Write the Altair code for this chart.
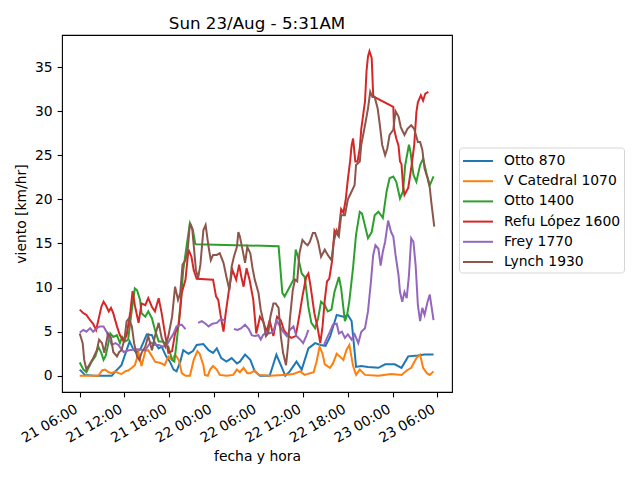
import altair as alt
import pandas as pd

# ---- data (hours after 21/Aug 06:00, wind km/hr) ----
series_names = ["Otto 870", "V Catedral 1070", "Otto 1400", "Refu López 1600", "Frey 1770", "Lynch 1930"]
series_colors = ["#1f77b4", "#ff7f0e", "#2ca02c", "#d62728", "#9467bd", "#8c564b"]

otto870 = [
    (0, 0.7), (0.7, 0.1), (2.0, 0.0), (4.3, 0.0), (4.8, 0.5), (5.6, 1.2), (6.7, 3.9), (7.2, 3.0),
    (7.6, 2.6), (8.2, 3.1), (9.0, 4.7), (9.7, 4.6), (10.1, 3.7), (10.6, 3.1), (11.0, 3.3), (11.6, 2.2),
    (12.1, 1.6), (12.6, 0.7), (13.0, 0.5), (13.5, 1.6), (13.9, 2.9), (14.6, 2.5), (15.2, 2.8), (15.7, 3.5),
    (16.6, 3.6), (17.3, 2.9), (17.9, 2.6), (18.4, 3.1), (19.0, 2.0), (19.7, 1.6), (20.4, 2.0), (21.1, 1.4),
    (21.5, 1.6), (22.2, 2.4), (22.9, 1.8), (23.5, 0.5), (24.2, 0.0), (25.5, 0.0), (26.4, 2.4), (27.1, 1.0),
    (27.6, 0.0), (28.2, 0.5), (29.1, 1.6), (29.8, 0.7), (30.7, 3.1), (31.6, 3.7), (32.3, 3.5), (33.0, 3.4),
    (33.6, 4.4), (34.5, 6.9), (35.4, 6.7), (36.0, 6.9), (36.5, 6.2), (36.9, 2.8), (37.1, 1.0), (37.8, 1.1),
    (38.7, 1.0), (40.1, 0.9), (41.0, 1.3), (42.3, 1.3), (43.2, 0.9), (44.1, 2.2), (45.4, 2.3), (46.3, 2.4),
    (47.5, 2.4),
]

vcatedral1070 = [
    (0, 0.0), (2.5, 0.0), (3.0, 0.6), (3.4, 0.7), (3.9, 0.4), (4.3, 0.3), (4.75, 0.5), (5.2, 0.3),
    (5.6, 0.2), (6.1, 0.5), (6.5, 0.6), (7.0, 0.9), (7.4, 1.2), (7.9, 2.6), (8.3, 1.1), (8.8, 2.8),
    (9.2, 2.9), (9.7, 2.2), (10.1, 1.6), (10.6, 1.5), (11.0, 1.4), (11.4, 1.2), (11.9, 2.2), (12.4, 1.8),
    (12.8, 2.4), (13.3, 1.8), (13.7, 0.3), (14.2, 0.0), (14.8, 0.0), (15.3, 1.8), (15.8, 2.8), (16.1, 2.5),
    (16.6, 1.2), (16.8, 0.1), (17.2, 0.0), (17.5, 0.7), (17.9, 1.1), (18.4, 0.7), (18.8, 0.1), (19.7, 0.0),
    (20.6, 0.1), (21.1, 0.7), (21.5, 0.4), (22.0, 0.9), (22.5, 0.3), (22.9, 0.3), (23.5, 0.6), (24.0, 0.1),
    (25.5, 0.0), (27.3, 0.1), (28.7, 0.2), (29.6, 0.5), (30.2, 0.1), (31.4, 0.4), (31.8, 1.6), (32.2, 3.3),
    (32.6, 2.5), (32.9, 1.3), (33.6, 0.9), (34.0, 1.4), (34.5, 2.5), (34.9, 2.2), (35.4, 1.8), (35.8, 2.9),
    (36.2, 3.5), (36.7, 1.1), (37.1, 0.1), (37.6, 0.7), (38.3, 0.1), (40.1, 0.0), (41.8, 0.2), (43.2, 0.1),
    (43.9, 0.6), (44.5, 0.9), (45.2, 2.0), (45.7, 2.4), (46.1, 0.9), (46.6, 0.3), (47.0, 0.1), (47.5, 0.5),
]

otto1400 = [
    (0, 1.5), (0.5, 0.7), (0.9, 0.4), (1.6, 1.6), (2.1, 2.2), (2.5, 3.3), (2.9, 2.6), (3.2, 1.8),
    (3.5, 2.3), (3.8, 3.5), (4.1, 4.8), (4.5, 4.4), (5.0, 4.6), (5.4, 3.7), (5.7, 4.4), (6.1, 3.9),
    (6.5, 4.1), (7.0, 7.5), (7.4, 9.9), (7.7, 9.7), (8.1, 8.6), (8.3, 7.1), (8.8, 6.7), (9.2, 7.3),
    (9.7, 6.5), (10.1, 5.2), (10.6, 3.9), (11.0, 3.9), (11.5, 3.7), (11.9, 3.3), (12.4, 1.8), (12.7, 1.6),
    (13.0, 3.7), (13.5, 7.8), (13.9, 12.0), (14.4, 15.0), (14.8, 17.3), (15.2, 16.5), (15.5, 15.0),
    (15.6, 14.9), (26.7, 14.7), (27.2, 9.4), (27.5, 9.0), (28.2, 10.1), (28.7, 10.9), (29.0, 14.3),
    (29.3, 13.5), (29.8, 11.6), (30.2, 11.2), (30.7, 7.8), (31.1, 6.0), (31.6, 5.4), (32.0, 6.5),
    (32.4, 8.4), (32.9, 8.0), (33.3, 7.3), (33.8, 7.5), (34.2, 9.5), (34.8, 11.2), (35.1, 9.9),
    (35.6, 6.2), (35.9, 6.9), (36.2, 8.5), (36.7, 12.3), (37.1, 16.0), (37.6, 18.6), (37.9, 18.4),
    (38.3, 17.0), (38.7, 15.6), (39.2, 16.3), (39.6, 18.2), (40.1, 18.6), (40.7, 17.9), (41.2, 20.9),
    (41.6, 22.4), (42.1, 22.6), (42.5, 22.0), (43.0, 20.1), (43.4, 20.9), (43.7, 23.9), (44.2, 26.2),
    (44.4, 25.4), (44.8, 22.8), (45.2, 22.0), (45.7, 23.9), (46.1, 24.6), (46.6, 22.8), (47.0, 21.6),
    (47.5, 22.6),
]

refulopez1600 = [
    (0, 7.5), (0.5, 7.1), (0.9, 6.9), (1.4, 6.3), (1.8, 5.9), (2.2, 5.2), (2.5, 6.3), (2.9, 7.8),
    (3.2, 8.4), (3.5, 8.0), (3.9, 7.3), (4.2, 7.7), (4.5, 7.1), (5.0, 5.6), (5.4, 4.6), (5.9, 3.9),
    (6.3, 4.6), (6.8, 7.3), (7.1, 9.6), (7.4, 8.0), (7.9, 6.0), (8.3, 8.2), (8.8, 8.0), (9.2, 8.8),
    (9.7, 7.8), (10.1, 7.3), (10.6, 8.8), (11.0, 7.1), (11.5, 4.5), (11.9, 2.6), (12.4, 2.8), (12.8, 4.8),
    (13.3, 5.8), (13.7, 9.4), (14.2, 10.9), (14.6, 14.3), (15.0, 13.5), (15.3, 12.0), (15.7, 11.0),
    (17.9, 10.9), (18.3, 9.0), (18.6, 8.6), (18.9, 6.9), (19.3, 5.0), (19.6, 7.1), (20.1, 10.1),
    (20.5, 12.0), (21.0, 10.9), (21.4, 12.6), (21.7, 11.2), (22.0, 10.1), (22.4, 12.2), (22.8, 10.9),
    (23.3, 8.6), (23.7, 4.8), (24.2, 6.7), (24.6, 6.2), (25.1, 5.0), (25.5, 6.3), (26.0, 4.5),
    (26.5, 6.7), (27.0, 6.3), (27.4, 5.2), (27.9, 4.6), (28.4, 4.3), (29.0, 4.5), (29.5, 6.9),
    (29.9, 9.0), (30.4, 11.2), (30.7, 11.6), (31.0, 10.1), (31.5, 7.1), (31.9, 5.6), (32.3, 3.7),
    (32.6, 5.6), (32.9, 8.6), (33.2, 10.7), (33.5, 11.0), (33.9, 13.1), (34.2, 16.5), (34.7, 15.9),
    (35.1, 18.9), (35.4, 18.5), (35.7, 19.9), (36.0, 22.3), (36.3, 24.3), (36.5, 26.1), (36.7, 26.9),
    (37.0, 24.3), (37.3, 24.3), (37.6, 25.8), (37.8, 28.0), (38.3, 31.1), (38.5, 34.5), (38.7, 36.2),
    (38.9, 36.8), (39.2, 36.0), (39.4, 31.8), (39.6, 31.6), (42.1, 30.5), (42.2, 28.0), (42.5, 26.9),
    (42.8, 26.1), (43.0, 24.3), (43.2, 24.0), (43.4, 21.6), (43.6, 20.5), (44.1, 21.3), (44.5, 23.5),
    (44.9, 26.1), (45.2, 29.9), (45.4, 31.0), (45.8, 31.8), (46.1, 31.2), (46.4, 32.0), (46.8, 32.2),
]

frey1770 = [
    (0, 4.9), (0.5, 5.2), (0.9, 5.0), (1.4, 5.4), (1.8, 5.0), (2.3, 5.4), (2.7, 5.6), (3.2, 5.6),
    (3.6, 5.0), (4.0, 4.1), (4.3, 3.5), (4.8, 3.7), (5.2, 3.5), (5.6, 3.0), (5.9, 2.7), (6.6, 2.9),
    (7.7, 3.0), (8.8, 2.9), (9.5, 3.8), (10.1, 3.5), (10.6, 3.5), (11.2, 3.3), (11.7, 3.5), (12.1, 4.1),
    (12.6, 4.8), (13.0, 5.6), (13.7, 5.8), (14.2, 5.3), (14.5, None),
    (15.9, 6.0), (16.4, 6.2), (16.9, 5.9), (17.3, 5.6), (17.8, 5.9), (18.4, 6.0), (18.9, 6.4), (19.5, 6.3),
    (20.0, None),
    (20.7, 5.3), (21.2, 5.2), (21.7, 5.4), (22.2, 5.8), (22.7, 5.3), (23.1, 4.6), (23.5, 4.5), (24.0, 4.6),
    (24.3, 4.1), (24.6, 4.6), (25.1, 5.0), (25.5, 4.8), (26.0, 5.0), (26.4, 6.3), (26.9, 5.6), (27.3, 5.0),
    (27.8, 4.5), (28.2, 5.2), (28.7, 5.6), (29.1, 4.5), (29.6, 4.1), (30.0, 3.7), (30.4, 4.5), (30.7, 5.2),
    (31.5, None),
    (32.8, 3.5), (33.1, 4.1), (33.6, 5.0), (34.0, 5.8), (34.5, 5.9), (34.8, 4.8), (35.2, 5.0), (35.6, 4.3),
    (36.0, 4.7), (36.5, 4.1), (36.9, 4.7), (37.4, 3.7), (37.8, 5.0), (38.3, 5.4), (38.7, 7.3), (39.1, 10.7),
    (39.4, 13.7), (39.7, 14.8), (40.1, 14.4), (40.4, 12.5), (40.7, 14.1), (41.0, 15.2), (41.4, 17.6),
    (41.8, 16.3), (42.1, 15.8), (42.4, 13.7), (42.8, 11.4), (43.0, 9.5), (43.3, 8.4), (43.6, 9.5),
    (43.9, 8.8), (44.2, 11.4), (44.5, 15.6), (44.8, 15.2), (45.1, 12.5), (45.4, 8.0), (45.7, 6.2),
    (46.0, 7.7), (46.3, 6.9), (46.7, 8.4), (47.0, 9.2), (47.2, 8.0), (47.5, 6.3),
]

lynch1930 = [
    (0, 4.8), (0.4, 3.7), (0.6, 1.8), (0.9, 0.7), (1.4, 1.4), (1.8, 2.0), (2.3, 2.9), (2.6, 4.1),
    (3.0, 3.7), (3.3, 2.6), (3.8, 4.8), (4.2, 4.3), (4.5, 2.7), (5.0, 2.2), (5.3, 2.7), (5.6, 2.9),
    (6.0, 4.1), (6.3, 6.2), (6.6, 6.5), (7.0, 5.6), (7.3, 3.7), (7.7, 2.2), (8.0, 1.8), (8.3, 2.6),
    (8.8, 3.3), (9.2, 4.5), (9.7, 2.9), (10.1, 4.5), (10.6, 6.0), (11.0, 4.3), (11.5, 3.3), (11.9, 4.5),
    (12.4, 6.7), (12.8, 10.1), (13.2, 8.6), (13.5, 9.4), (13.8, 12.6), (14.2, 13.1), (14.5, 14.3),
    (14.8, 17.3), (15.1, 16.7), (15.4, 13.9), (15.6, 12.0), (15.9, 11.1), (16.2, 12.6), (16.6, 16.5),
    (16.9, 17.1), (17.3, 14.6), (17.6, 13.1), (17.9, 13.7), (18.4, 13.7), (18.8, 13.9), (19.3, 12.8),
    (19.7, 11.2), (20.1, 9.7), (20.4, 12.4), (20.7, 13.5), (21.1, 14.6), (21.3, 16.3), (21.5, 15.8),
    (21.9, 14.1), (22.2, 12.8), (22.5, 14.6), (22.9, 13.9), (23.2, 12.2), (23.5, 10.9), (24.0, 9.4),
    (24.3, 7.5), (24.7, 6.0), (25.0, 4.5), (25.3, 4.8), (25.6, 6.7), (26.0, 8.2), (26.3, 8.2),
    (26.7, 7.7), (27.0, 4.5), (27.3, 2.6), (27.7, 1.2), (28.0, 3.7), (28.2, 6.3), (28.6, 9.7),
    (28.9, 10.9), (29.2, 10.7), (29.5, 13.9), (29.9, 15.4), (30.3, 15.0), (30.6, 14.8), (30.9, 15.2),
    (31.3, 16.2), (31.6, 16.2), (32.0, 15.2), (32.4, 13.5), (32.9, 14.3), (33.3, 13.7), (33.8, 13.1),
    (34.1, 15.2), (34.5, 16.5), (34.8, 15.9), (35.1, 18.2), (35.6, 18.2), (36.0, 20.0), (36.5, 20.9),
    (36.9, 21.6), (37.1, 23.9), (37.6, 24.3), (37.8, 26.2), (38.3, 28.4), (38.7, 30.3), (39.0, 32.2),
    (39.3, 31.6), (39.6, 31.6), (40.0, 30.3), (40.3, 28.4), (40.6, 26.2), (41.0, 25.0), (41.3, 25.8),
    (41.6, 27.3), (42.1, 27.9), (42.4, 30.0), (42.8, 29.4), (43.1, 28.2), (43.6, 27.3), (44.0, 28.0),
    (44.5, 28.4), (44.9, 28.0), (45.4, 26.5), (45.7, 26.5), (46.0, 25.6), (46.3, 23.5), (46.7, 22.4),
    (47.0, 21.3), (47.2, 19.7), (47.6, 16.9),
]

series_data = [otto870, vcatedral1070, otto1400, refulopez1600, frey1770, lynch1930]
y_ticks = [0, 5, 10, 15, 20, 25, 30, 35]

# ---- build table ----
base = pd.Timestamp("2020-08-21 06:00:00")
rows = []
for order, (name, pts) in enumerate(zip(series_names, series_data)):
    seg = 0
    for h, v in pts:
        if v is None:
            seg += 1
            continue
        t = base + pd.Timedelta(hours=h)
        rows.append({"estacion": name, "orden": order, "seg": f"{order}-{seg}",
                     "t": t.strftime("%Y-%m-%dT%H:%M:%S"), "viento": v})
df = pd.DataFrame(rows)


def dt(day, hours, minutes=0, seconds=0):
    return alt.DateTime(year=2020, month=8, date=day, hours=hours, minutes=minutes, seconds=seconds)


x_ticks = [dt(21, 6), dt(21, 12), dt(21, 18), dt(22, 0), dt(22, 6), dt(22, 12), dt(22, 18), dt(23, 0), dt(23, 6)]
x_domain = [dt(21, 3, 37, 12), dt(23, 7, 58, 48)]

FONT = "DejaVu Sans"

chart = alt.Chart(df).mark_line(strokeWidth=2, clip=True).encode(
    x=alt.X("t:T", title="fecha y hora",
            scale=alt.Scale(domain=x_domain),
            axis=alt.Axis(values=x_ticks, format="%d %H:%M", labelAngle=-30, labelAlign="right",
                          labelBaseline="top", labelOffset=-7, labelPadding=5, titlePadding=5,
                          labelOverlap=False, labelFlush=False, labelBound=False)),
    y=alt.Y("viento:Q", title="viento [km/hr]",
            scale=alt.Scale(domain=[-1.84, 38.64], nice=False, zero=False),
            axis=alt.Axis(values=y_ticks, format="d", labelPadding=5, titlePadding=6)),
    color=alt.Color("estacion:N",
                    scale=alt.Scale(domain=series_names, range=series_colors),
                    legend=alt.Legend(title=None, orient="none", legendX=397, legendY=112.5,
                                      direction="vertical", symbolType="M-1,0H2.158", symbolSize=361,
                                      symbolStrokeWidth=2, labelFont=FONT, labelFontSize=13.9,
                                      labelColor="black", labelOffset=21, rowPadding=2.2, padding=3,
                                      strokeColor="#d5d5d5", fillColor="white", cornerRadius=3,
                                      labelLimit=400)),
    detail="seg:N",
).properties(
    width=390, height=357,
    title=alt.TitleParams("Sun 23/Aug - 5:31AM", font=FONT, fontSize=16.7, fontWeight="normal",
                          color="black", anchor="middle", offset=4.5, baseline="bottom", dy=19),
    autosize=alt.AutoSizeParams(type="none"),
    padding={"left": 54, "top": 27, "right": 180, "bottom": 80},
).configure_view(
    stroke="black", strokeWidth=1.1
).configure_axis(
    domain=False, grid=False, tickColor="black", tickWidth=1.1, tickSize=4.9,
    labelFont=FONT, labelFontSize=13.9, labelColor="black",
    titleFont=FONT, titleFontSize=13.9, titleFontWeight="normal", titleColor="black",
)

chart.save("out.html", embed_options={"renderer": "svg", "actions": False})
